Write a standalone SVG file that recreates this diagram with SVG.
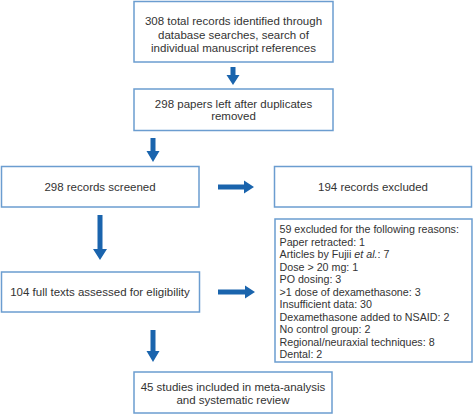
<svg xmlns="http://www.w3.org/2000/svg" width="474" height="415" viewBox="0 0 474 415">
<style>
.box{fill:#ffffff;stroke:#6b9dd0;stroke-width:1.5}
.t{font-family:"Liberation Sans",Arial,sans-serif;font-size:11.5px;fill:#333333}
.l{font-size:10.7px}
.c{text-anchor:middle}
.arr{fill:#1a64ad}
</style>
<rect width="474" height="415" fill="#ffffff"/>
<g id="n1"><rect class="box" x="134" y="1.5" width="199" height="60.5"/>
<text class="t c" x="233.5" y="25">308 total records identified through</text>
<text class="t c" x="233.5" y="38.5">database searches, search of</text>
<text class="t c" x="233.5" y="52">individual manuscript references</text></g>
<g id="n2"><rect class="box" x="134" y="89" width="199" height="41.5"/>
<text class="t c" x="233.5" y="107.5">298 papers left after duplicates</text>
<text class="t c" x="233.5" y="120">removed</text></g>
<g id="n3"><rect class="box" x="1.5" y="166.5" width="197.5" height="40.5"/>
<text class="t c" x="100" y="191">298 records screened</text></g>
<g id="n4"><rect class="box" x="274.5" y="166.5" width="197" height="40.5"/>
<text class="t c" x="373" y="191">194 records excluded</text></g>
<g id="n5"><rect class="box" x="1.5" y="272" width="198" height="40"/>
<text class="t c" x="100" y="296">104 full texts assessed for eligibility</text></g>
<g id="n6"><rect class="box" x="275" y="219" width="197" height="143"/>
<text class="t l" x="279.5" y="233">59 excluded for the following reasons:</text>
<text class="t l" x="279.5" y="245.5">Paper retracted: 1</text>
<text class="t l" x="279.5" y="258">Articles by Fujii <tspan font-style="italic">et al.</tspan>:  7</text>
<text class="t l" x="279.5" y="270.5">Dose &gt; 20 mg:  1</text>
<text class="t l" x="279.5" y="283">PO dosing: 3</text>
<text class="t l" x="279.5" y="295.5">&gt;1 dose of dexamethasone: 3</text>
<text class="t l" x="279.5" y="308">Insufficient data: 30</text>
<text class="t l" x="279.5" y="320.5">Dexamethasone added to NSAID: 2</text>
<text class="t l" x="279.5" y="333">No control group: 2</text>
<text class="t l" x="279.5" y="345.5">Regional/neuraxial techniques: 8</text>
<text class="t l" x="279.5" y="358">Dental: 2</text></g>
<g id="n7"><rect class="box" x="134" y="372" width="198" height="41"/>
<text class="t c" x="233" y="391">45 studies included in meta-analysis</text>
<text class="t c" x="233" y="404">and systematic review</text></g>
<g id="connectors" class="arr">
<polygon points="230.5,67 235.5,67 235.5,75 239.5,75 233,85 226.5,75 230.5,75"/>
<polygon points="150.5,138 155.5,138 155.5,151 159.5,151 153,162 146.5,151 150.5,151"/>
<polygon points="97.5,215 102.5,215 102.5,249 107,249 100,260 93,249 97.5,249"/>
<polygon points="150.5,330 155.5,330 155.5,351 159.5,351 153,362 146.5,351 150.5,351"/>
<polygon points="218,184.5 244,184.5 244,180.5 254,187 244,193.5 244,189.5 218,189.5"/>
<polygon points="218,289.5 245,289.5 245,285.5 255,292 245,298.5 245,294.5 218,294.5"/>
</g>
</svg>
